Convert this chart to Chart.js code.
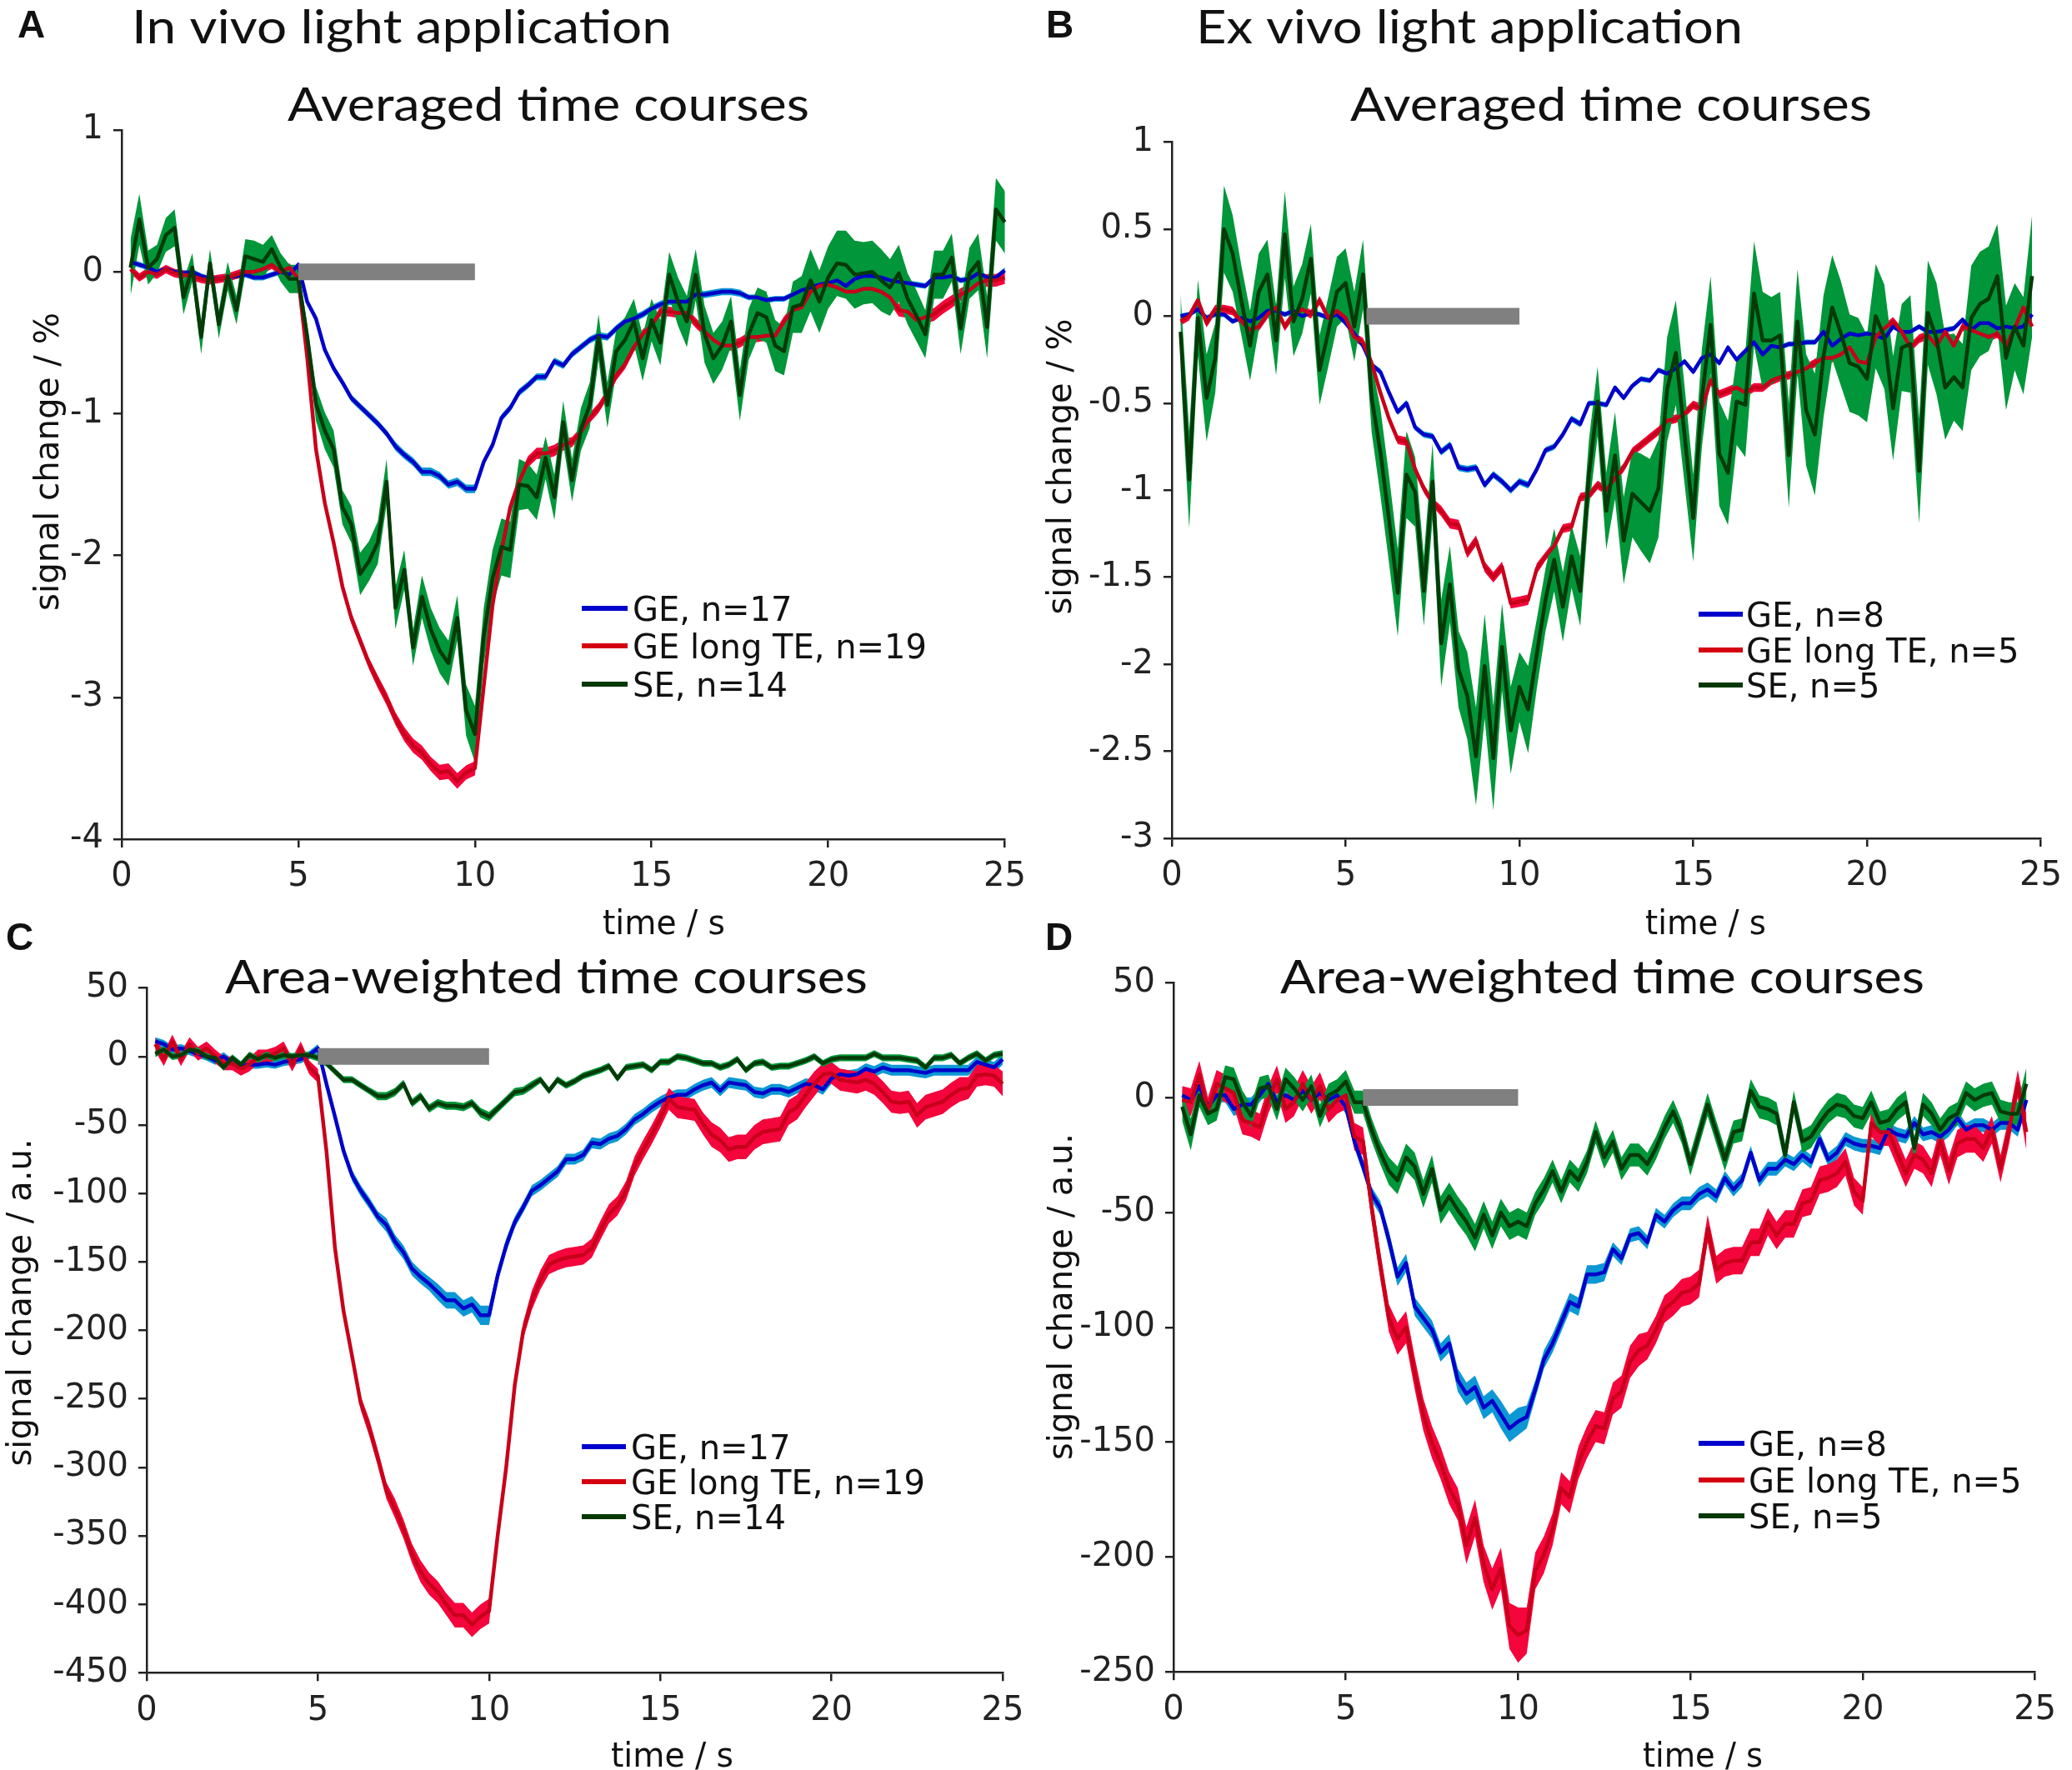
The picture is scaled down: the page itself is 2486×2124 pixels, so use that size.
<!DOCTYPE html>
<html>
<head>
<meta charset="utf-8">
<title>Averaged and area-weighted time courses</title>
<script src="https://cdn.jsdelivr.net/npm/chart.js@4.4.0/dist/chart.umd.min.js"></script>
<style>
  html, body { margin: 0; padding: 0; background: #fff; }
  #page { position: relative; width: 2486px; height: 2124px; overflow: hidden; background: #fff; }
  #page canvas { position: absolute; }
</style>
</head>
<body>
<div id="page">
  <canvas id="chartA"></canvas>
  <canvas id="chartB"></canvas>
  <canvas id="chartC"></canvas>
  <canvas id="chartD"></canvas>
</div>
<script>
// sampling times (s)
const times = [
  0.25,0.5,0.75,1,1.25,1.5,1.75,2,2.25,2.5,
  2.75,3,3.25,3.5,3.75,4,4.25,4.5,4.75,5,
  5.25,5.5,5.75,6,6.25,6.5,6.75,7,7.25,7.5,
  7.75,8,8.25,8.5,8.75,9,9.25,9.5,9.75,10,
  10.25,10.5,10.75,11,11.25,11.5,11.75,12,12.25,12.5,
  12.75,13,13.25,13.5,13.75,14,14.25,14.5,14.75,15,
  15.25,15.5,15.75,16,16.25,16.5,16.75,17,17.25,17.5,
  17.75,18,18.25,18.5,18.75,19,19.25,19.5,19.75,20,
  20.25,20.5,20.75,21,21.25,21.5,21.75,22,22.25,22.5,
  22.75,23,23.25,23.5,23.75,24,24.25,24.5,24.75,25,
  25.25,25.5
];

const legendA = ['GE, n=17', 'GE long TE, n=19', 'SE, n=14'];
const legendB = ['GE, n=8', 'GE long TE, n=5', 'SE, n=5'];
const xTicks = [0, 25, 5];           // min, max, step
const yTicksA = [-4, 1, 1];
const yTicksB = [-3, 1, 0.5];
const yTicksC = [-450, 50, 50];
const yTicksD = [-250, 50, 50];
const stimA = [5, 10];
const stimB = [5.6, 10];
const stimC = [5, 10];
const stimD = [5.5, 10];

// ---- A: in vivo, averaged (%) ----
const aGE = [
  0.07,0.05,0.03,0.0,0.02,0.0,-0.01,0.0,-0.03,-0.05,
  -0.05,-0.04,-0.03,-0.02,-0.04,-0.04,-0.02,0.0,-0.02,0.05,
  -0.21,-0.33,-0.55,-0.68,-0.78,-0.89,-0.95,-1.01,-1.07,-1.14,
  -1.23,-1.29,-1.34,-1.41,-1.41,-1.44,-1.50,-1.48,-1.53,-1.53,
  -1.34,-1.22,-1.03,-0.96,-0.85,-0.80,-0.74,-0.74,-0.63,-0.66,
  -0.58,-0.53,-0.48,-0.45,-0.46,-0.40,-0.35,-0.33,-0.30,-0.26,
  -0.23,-0.21,-0.21,-0.21,-0.16,-0.16,-0.15,-0.14,-0.14,-0.15,
  -0.18,-0.18,-0.20,-0.19,-0.19,-0.16,-0.13,-0.11,-0.09,-0.08,
  -0.06,-0.10,-0.05,-0.03,-0.03,-0.04,-0.06,-0.07,-0.08,-0.09,
  -0.10,-0.04,-0.04,-0.03,-0.06,-0.05,-0.01,-0.04,-0.04,0.01,
  0.02,0.02
];
const aGEsem = [
  .02,.02,.02,.02,.02,.02,.02,.02,.02,.02,
  .02,.02,.02,.02,.02,.02,.02,.02,.02,.02,
  .02,.02,.025,.025,.025,.025,.025,.025,.025,.025,
  .03,.03,.03,.03,.03,.03,.03,.03,.03,.03,
  .025,.025,.025,.025,.025,.025,.025,.025,.025,.025,
  .025,.025,.025,.025,.025,.025,.025,.025,.025,.025,
  .025,.025,.025,.025,.025,.025,.025,.025,.025,.025,
  .02,.02,.02,.02,.02,.02,.02,.02,.02,.02,
  .02,.02,.02,.02,.02,.02,.02,.02,.02,.02,
  .02,.02,.02,.02,.02,.02,.02,.02,.02,.02,
  .02,.02
];
const aLong = [
  0.02,-0.04,0.0,-0.02,0.02,-0.01,-0.02,-0.03,-0.05,-0.06,
  -0.05,-0.04,-0.02,0.0,0.0,0.02,0.05,0.0,0.03,-0.05,
  -0.60,-1.25,-1.63,-1.91,-2.22,-2.44,-2.60,-2.76,-2.89,-3.01,
  -3.15,-3.26,-3.34,-3.39,-3.47,-3.53,-3.52,-3.59,-3.53,-3.50,
  -2.92,-2.35,-1.97,-1.66,-1.48,-1.34,-1.28,-1.28,-1.26,-1.22,
  -1.20,-1.13,-1.03,-0.96,-0.86,-0.73,-0.65,-0.53,-0.44,-0.38,
  -0.28,-0.28,-0.29,-0.29,-0.36,-0.42,-0.48,-0.52,-0.52,-0.50,
  -0.46,-0.46,-0.45,-0.45,-0.35,-0.27,-0.25,-0.14,-0.10,-0.09,
  -0.11,-0.14,-0.14,-0.12,-0.12,-0.14,-0.18,-0.27,-0.28,-0.34,
  -0.32,-0.30,-0.25,-0.21,-0.16,-0.13,-0.08,-0.06,-0.06,-0.04,
  -0.03,-0.03
];
const aLongSem = [
  .03,.03,.03,.03,.03,.03,.03,.03,.03,.03,
  .03,.03,.03,.03,.03,.03,.03,.03,.03,.03,
  .03,.03,.035,.035,.035,.04,.04,.04,.045,.045,
  .045,.05,.05,.05,.05,.055,.055,.055,.05,.05,
  .04,.04,.04,.04,.04,.04,.04,.04,.04,.04,
  .035,.035,.035,.035,.035,.035,.035,.035,.035,.035,
  .035,.035,.035,.035,.035,.035,.035,.035,.035,.035,
  .035,.035,.035,.035,.035,.035,.035,.035,.035,.035,
  .04,.04,.04,.04,.04,.045,.045,.045,.045,.045,
  .045,.045,.045,.045,.045,.045,.045,.045,.045,.045,
  .04,.04
];
const aSE = [
  0.03,0.37,0.03,0.09,0.26,0.31,-0.18,0.03,-0.46,0.06,
  -0.37,-0.03,-0.27,0.11,0.09,0.07,0.16,0.03,-0.05,-0.05,
  -0.45,-0.93,-1.12,-1.25,-1.66,-1.78,-2.13,-2.04,-1.91,-1.48,
  -2.37,-2.10,-2.65,-2.29,-2.52,-2.67,-2.76,-2.44,-3.09,-3.26,
  -2.57,-2.16,-1.94,-1.96,-1.50,-1.51,-1.59,-1.31,-1.59,-1.06,
  -1.47,-1.11,-0.94,-0.46,-0.94,-0.56,-0.48,-0.35,-0.61,-0.34,
  -0.50,-0.02,-0.21,-0.35,-0.02,-0.44,-0.61,-0.52,-0.35,-0.87,
  -0.44,-0.29,-0.32,-0.52,-0.56,-0.25,-0.23,-0.06,-0.21,-0.04,
  0.06,0.05,-0.02,-0.01,0.0,-0.06,-0.11,-0.01,-0.19,-0.31,
  -0.44,-0.02,-0.02,0.10,-0.40,-0.01,0.07,-0.39,0.44,0.35,
  0.06,-0.24
];
const aSEsem = [
  .2,.18,.12,.1,.12,.13,.12,.1,.12,.1,
  .1,.1,.1,.12,.13,.12,.1,.1,.1,.1,
  .08,.12,.13,.13,.12,.13,.15,.14,.15,.16,
  .15,.14,.13,.15,.15,.16,.16,.16,.18,.2,
  .2,.2,.2,.2,.18,.16,.16,.15,.16,.15,
  .15,.15,.16,.16,.16,.15,.16,.16,.16,.15,
  .16,.16,.17,.18,.18,.2,.18,.17,.18,.18,
  .18,.18,.18,.18,.17,.18,.2,.22,.22,.22,
  .23,.24,.24,.22,.22,.22,.2,.2,.18,.18,
  .17,.17,.17,.17,.18,.18,.2,.22,.22,.22,
  .2,.18
];

// ---- B: ex vivo, averaged (%) ----
const bGE = [
  0.0,0.01,0.04,-0.01,0.01,0.01,-0.03,-0.01,-0.03,-0.01,
  0.03,0.03,0.01,0.03,0.0,0.02,0.01,-0.01,0.01,-0.04,
  -0.10,-0.17,-0.28,-0.32,-0.44,-0.55,-0.50,-0.64,-0.68,-0.69,
  -0.78,-0.74,-0.87,-0.88,-0.87,-0.97,-0.91,-0.95,-1.00,-0.95,
  -0.97,-0.88,-0.77,-0.75,-0.68,-0.59,-0.62,-0.50,-0.50,-0.51,
  -0.41,-0.47,-0.40,-0.36,-0.37,-0.31,-0.33,-0.30,-0.26,-0.32,
  -0.24,-0.22,-0.27,-0.18,-0.25,-0.20,-0.15,-0.22,-0.17,-0.18,
  -0.16,-0.16,-0.15,-0.15,-0.09,-0.17,-0.13,-0.10,-0.11,-0.10,
  -0.11,-0.13,-0.06,-0.09,-0.09,-0.06,-0.09,-0.09,-0.08,-0.07,
  -0.02,-0.08,-0.04,-0.04,-0.07,-0.06,-0.07,-0.06,0.01
];
const bGEsem = [
  .015,.015,.015,.015,.015,.015,.015,.015,.015,.015,
  .015,.015,.015,.015,.015,.015,.015,.015,.015,.015,
  .015,.015,.015,.018,.018,.018,.018,.018,.018,.018,
  .02,.02,.02,.02,.02,.02,.02,.02,.02,.02,
  .02,.02,.018,.018,.018,.018,.018,.015,.015,.015,
  .015,.015,.015,.015,.015,.015,.015,.015,.015,.015,
  .015,.015,.015,.015,.015,.015,.015,.015,.015,.015,
  .015,.015,.015,.015,.015,.015,.015,.015,.015,.015,
  .015,.015,.015,.015,.015,.015,.015,.015,.015,.015,
  .015,.015,.015,.015,.015,.015,.015,.015,.015
];
const bLong = [
  -0.03,0.0,0.09,-0.04,0.04,0.04,0.03,-0.03,-0.08,-0.06,
  0.01,0.05,-0.06,0.01,0.04,0.01,0.09,-0.01,0.03,-0.01,
  -0.12,-0.15,-0.27,-0.44,-0.59,-0.71,-0.72,-0.88,-0.99,-1.07,
  -1.12,-1.19,-1.20,-1.36,-1.29,-1.44,-1.50,-1.44,-1.65,-1.64,
  -1.63,-1.45,-1.38,-1.32,-1.22,-1.21,-1.04,-1.03,-0.97,-1.00,
  -0.93,-0.87,-0.78,-0.74,-0.70,-0.66,-0.60,-0.59,-0.56,-0.51,
  -0.53,-0.37,-0.45,-0.43,-0.41,-0.44,-0.41,-0.41,-0.37,-0.35,
  -0.34,-0.32,-0.30,-0.27,-0.24,-0.24,-0.22,-0.18,-0.26,-0.27,
  -0.12,-0.07,-0.03,-0.09,-0.18,-0.13,-0.11,-0.17,-0.09,-0.17,
  -0.06,-0.08,-0.10,-0.12,-0.10,-0.17,-0.07,0.05,-0.06
];
const bLongSem = [
  .025,.025,.025,.025,.025,.025,.025,.025,.025,.025,
  .025,.025,.025,.025,.025,.025,.025,.025,.025,.025,
  .025,.025,.025,.025,.025,.025,.025,.025,.025,.025,
  .03,.03,.03,.03,.03,.03,.03,.03,.03,.03,
  .03,.03,.025,.025,.025,.025,.025,.025,.025,.025,
  .025,.025,.025,.025,.025,.025,.025,.025,.025,.025,
  .025,.025,.025,.025,.025,.025,.025,.025,.025,.025,
  .025,.025,.025,.025,.025,.025,.025,.025,.025,.025,
  .025,.025,.025,.025,.025,.025,.025,.025,.025,.025,
  .025,.025,.025,.025,.025,.025,.025,.025,.025
];
const bSE = [
  -0.09,-0.94,-0.01,-0.47,-0.24,0.50,0.36,0.09,-0.17,0.14,
  0.24,-0.14,0.47,-0.03,0.10,0.33,-0.31,-0.09,0.14,0.19,
  -0.06,0.24,-0.47,-0.78,-1.17,-1.59,-0.91,-1.01,-1.58,-0.95,
  -1.88,-1.54,-2.03,-2.18,-2.53,-2.01,-2.54,-1.90,-2.38,-2.13,
  -2.26,-1.94,-1.63,-1.40,-1.67,-1.38,-1.58,-0.91,-0.49,-1.12,
  -0.80,-1.29,-1.02,-1.07,-1.12,-0.99,-0.42,-0.21,-0.68,-1.16,
  -0.47,-0.05,-0.79,-0.90,-0.49,-0.51,0.13,-0.14,-0.14,-0.11,
  -0.80,-0.03,-0.54,-0.68,-0.23,0.05,-0.10,-0.27,-0.29,-0.36,
  0.0,-0.12,-0.53,-0.18,-0.16,-0.89,0.02,-0.13,-0.41,-0.35,
  -0.41,-0.01,0.07,0.10,0.23,-0.24,-0.06,-0.17,0.23
];
const bSEsem = [
  .22,.28,.22,.25,.2,.25,.22,.2,.2,.22,
  .2,.2,.25,.2,.2,.2,.2,.2,.2,.2,
  .2,.2,.2,.25,.25,.25,.25,.2,.2,.22,
  .25,.22,.22,.25,.28,.3,.3,.25,.25,.2,
  .25,.2,.18,.18,.2,.18,.2,.2,.2,.22,
  .25,.25,.25,.28,.3,.28,.3,.3,.28,.25,
  .28,.28,.3,.3,.25,.3,.3,.28,.25,.25,
  .3,.3,.32,.35,.35,.3,.3,.28,.28,.25,
  .3,.3,.3,.25,.28,.3,.3,.32,.3,.25,
  .25,.3,.3,.3,.3,.3,.25,.28,.35
];

// ---- C: in vivo, area-weighted (a.u.) ----
const cGE = [
  11,9,5,6,4,2,0,-3,0,-5,
  -7,-6,-6,-5,-6,-4,-3,-2,1,6,
  -20,-44,-69,-87,-98,-107,-117,-123,-135,-143,
  -155,-161,-166,-172,-178,-178,-184,-181,-189,-189,
  -160,-138,-121,-110,-98,-94,-89,-84,-75,-75,
  -72,-63,-64,-60,-58,-53,-46,-42,-37,-33,
  -30,-28,-28,-24,-21,-19,-25,-19,-20,-21,
  -26,-27,-24,-24,-26,-23,-20,-21,-24,-16,
  -13,-14,-13,-9,-11,-8,-10,-10,-10,-11,
  -12,-10,-10,-10,-10,-10,-4,-6,-8,-2
];
const cGEsem = [
  3,3,3,3,3,3,3,3,3,3,
  3,3,3,3,3,3,3,3,3,3,
  3,3,4,4,4,4,4,5,5,5,
  5,5,5,6,6,6,6,6,7,7,
  5,5,4,4,4,4,4,4,4,4,
  4,4,4,4,4,4,4,4,4,4,
  4,4,4,4,4,4,4,4,4,4,
  4,4,4,4,4,4,4,4,4,4,
  4,4,4,4,4,4,4,4,4,4,
  4,4,4,4,4,4,4,4,4,4
];
const cLong = [
  9,-2,11,-2,9,2,6,0,-5,-5,
  -9,-6,0,0,2,6,-6,6,-8,-14,
  -69,-140,-186,-219,-253,-271,-293,-317,-330,-345,
  -363,-376,-385,-391,-400,-408,-408,-415,-409,-405,
  -350,-300,-240,-200,-178,-163,-152,-149,-147,-146,
  -145,-140,-127,-115,-109,-98,-80,-68,-57,-45,
  -31,-37,-38,-39,-49,-57,-61,-68,-66,-66,
  -59,-55,-54,-53,-41,-37,-28,-20,-13,-12,
  -17,-18,-19,-17,-20,-26,-33,-34,-33,-43,
  -37,-35,-33,-28,-24,-23,-14,-13,-14,-20
];
const cLongSem = [
  5,5,5,5,5,5,5,5,5,5,
  5,5,5,5,5,5,5,5,5,5,
  4,4,5,5,5,6,6,6,7,7,
  7,8,8,8,8,9,9,9,9,9,
  8,7,6,6,7,7,7,7,7,7,
  7,7,7,7,7,7,7,7,7,7,
  8,8,8,8,8,9,9,9,9,9,
  9,9,9,9,9,9,9,9,8,8,
  8,8,8,8,8,8,8,8,8,9,
  9,9,9,9,9,8,8,8,8,9
];
const cSE = [
  2,5,0,1,5,4,0,-1,-8,-1,
  -6,1,-2,1,-1,1,0,1,1,-1,
  -5,-11,-17,-17,-21,-25,-29,-29,-26,-20,
  -34,-29,-38,-34,-36,-36,-37,-34,-41,-44,
  -38,-32,-26,-25,-21,-17,-25,-17,-21,-18,
  -14,-12,-10,-7,-16,-8,-7,-6,-10,-4,
  -4,0,-1,-3,-5,-5,-8,-6,-2,-10,
  -5,-4,-8,-7,-7,-5,-3,0,-5,-2,
  -1,-1,-1,-1,2,-1,-1,-1,-2,-3,
  -8,-1,-1,1,-5,-1,2,-3,1,2
];
const cSEsem = [
  2.5,2.5,2.5,2.5,2.5,2.5,2.5,2.5,2.5,2.5,
  2.5,2.5,2.5,2.5,2.5,2.5,2.5,2.5,2.5,2.5,
  2.5,2.5,2.5,2.5,2.5,2.5,3,3,3,3,
  3,3,3,3,3,3,3,3,3.5,3.5,
  3,3,3,3,3,2.5,2.5,2.5,2.5,2.5,
  2.5,2.5,2.5,2.5,2.5,2.5,2.5,2.5,2.5,2.5,
  2.5,2.5,2.5,2.5,2.5,2.5,2.5,2.5,2.5,2.5,
  2.5,2.5,2.5,2.5,2.5,2.5,2.5,2.5,2.5,2.5,
  2.5,2.5,2.5,2.5,2.5,2.5,2.5,2.5,2.5,2.5,
  2.5,2.5,2.5,2.5,2.5,2.5,2.5,2.5,2.5,2.5
];

// ---- D: ex vivo, area-weighted (a.u.) ----
const dGE = [
  1,-1,5,-4,1,1,-5,-3,-3,1,
  6,-2,1,-1,3,-1,2,-1,1,-4,
  -19,-30,-42,-48,-62,-78,-72,-91,-96,-101,
  -111,-107,-123,-129,-126,-135,-132,-138,-144,-141,
  -139,-127,-114,-107,-98,-89,-91,-77,-77,-76,
  -66,-70,-60,-59,-63,-51,-54,-49,-46,-46,
  -42,-40,-43,-35,-40,-36,-24,-36,-31,-31,
  -27,-29,-25,-28,-18,-27,-24,-18,-20,-21,
  -21,-22,-14,-16,-17,-11,-16,-15,-17,-14,
  -9,-14,-12,-12,-14,-11,-11,-14,-1
];
const dGEsem = [
  3,3,3,3,3,3,3,3,3,3,
  3,3,3,3,3,3,3,3,3,3,
  3,3,3,3,4,4,4,4,4,4,
  4,4,5,5,5,5,5,6,6,6,
  5,4,4,4,4,4,4,4,4,4,
  3,3,3,3,3,3,3,3,3,3,
  3,3,3,3,3,3,3,3,3,3,
  3,3,3,3,3,3,3,3,3,3,
  3,3,3,3,3,3,3,3,3,3,
  3,3,3,3,3,3,3,3,3
];
const dLong = [
  -1,-2,10,-6,6,4,2,-10,-11,-13,
  -1,8,-5,-2,6,-1,5,-5,-1,1,
  -17,-19,-48,-73,-96,-105,-100,-120,-138,-150,
  -159,-170,-177,-195,-183,-203,-214,-205,-230,-234,
  -232,-206,-199,-188,-170,-174,-159,-150,-143,-144,
  -131,-128,-115,-110,-108,-101,-92,-89,-85,-84,
  -81,-57,-75,-72,-71,-71,-63,-63,-54,-60,
  -55,-55,-46,-45,-36,-35,-33,-28,-41,-45,
  -11,-15,-15,-24,-33,-25,-27,-33,-19,-32,
  -20,-18,-18,-22,-14,-31,-14,6,-15
];
const dLongSem = [
  6,6,6,6,6,6,6,6,6,6,
  6,6,6,6,6,6,6,6,6,6,
  6,6,6,6,6,7,7,7,7,7,
  7,7,7,8,8,8,9,9,10,12,
  10,8,8,7,7,7,7,7,7,7,
  7,7,7,7,6,6,6,6,6,6,
  6,6,6,6,6,6,6,6,6,6,
  6,6,6,6,6,6,6,6,6,6,
  6,6,6,6,6,6,6,6,6,6,
  6,6,6,6,6,6,6,6,8
];
const dSE = [
  -4,-16,1,-7,-5,9,8,-2,-8,4,
  5,-5,8,4,-1,5,-8,1,3,7,
  -2,-2,-14,-24,-32,-36,-26,-30,-42,-31,
  -49,-43,-49,-54,-61,-51,-60,-50,-56,-54,
  -56,-46,-40,-32,-41,-32,-36,-28,-15,-26,
  -19,-31,-25,-25,-29,-22,-13,-6,-15,-29,
  -16,-3,-15,-27,-15,-14,3,-4,-5,-7,
  -25,-2,-19,-17,-11,-6,-3,-4,-8,-9,
  -2,-11,-10,-5,-2,-22,-3,-7,-14,-9,
  -7,2,-1,1,2,-6,-7,-7,6
];
const dSEsem = [
  6,7,5,5,5,5,5,5,5,5,
  5,5,5,5,5,5,5,5,5,5,
  5,5,5,5,6,6,6,6,6,6,
  6,6,6,6,6,6,6,6,6,6,
  6,5,5,5,5,5,5,5,5,5,
  5,5,5,5,5,5,5,5,5,5,
  5,5,5,5,5,5,5,5,5,5,
  5,5,5,5,5,5,5,5,5,5,
  5,5,5,5,5,5,5,5,5,5,
  5,5,5,5,5,5,5,5,7
];

// ---- styles ----
const AXIS = '#222222';
const TEXT = '#111111';
const blueLine = '#0000c8', blueBand = '#0d98d5';
const redLine = '#c8001a', redBand = '#f4053c';
const greenLine = '#063a08', greenBand = '#009639';
const legendColors = ['#0000cc', '#d40010', '#053805'];
const tickFont = { family: 'DejaVu Sans', size: 40 };

function pts(mean, off, sign) {
  return mean.map((v, i) => ({ x: times[i], y: off ? v + sign * off[i] : v }));
}

function band(mean, sem, color) {
  const common = { pointRadius: 0, borderWidth: 0, borderColor: 'rgba(0,0,0,0)', tension: 0, clip: false };
  return [
    Object.assign({ data: pts(mean, sem, 1), fill: '+1', backgroundColor: color }, common),
    Object.assign({ data: pts(mean, sem, -1), fill: false }, common)
  ];
}

function line(mean, color) {
  return { data: pts(mean), borderColor: color, borderWidth: 4.5, pointRadius: 0, fill: false,
           tension: 0, borderJoinStyle: 'round', clip: false };
}

function fitText(ctx, str, x, y, w, font) {
  ctx.font = font;
  const m = ctx.measureText(str).width;
  ctx.save();
  ctx.translate(x, y);
  ctx.scale(w / m, 1);
  ctx.textAlign = 'left';
  ctx.fillText(str, 0, 0);
  ctx.restore();
}

// tick labels like "1", "0.5", "-1.5" (no trailing zeros)
function tickLabel(v) {
  return String(Math.round(v * 100) / 100);
}

// panel titles, axis labels and legend, drawn on top of each chart
const panelText = {
  id: 'panelText',
  afterDraw(chart, args, o) {
    const ctx = chart.ctx;
    ctx.save();
    ctx.fillStyle = TEXT;
    ctx.textBaseline = 'alphabetic';
    ctx.textAlign = 'left';
    ctx.font = 'bold 46px "Liberation Sans"';
    ctx.fillText(o.letter, o.letterPos[0], o.letterPos[1]);
    if (o.header) fitText(ctx, o.header, o.headerBox[0], o.headerBox[1], o.headerBox[2], '56px Lato');
    fitText(ctx, o.title, o.titleBox[0], o.titleBox[1], o.titleBox[2], '56px Lato');
    fitText(ctx, 'time / s', o.xTitleBox[0], o.xTitleBox[1], o.xTitleBox[2], '40px "DejaVu Sans"');

    // rotated y label
    ctx.save();
    ctx.translate(o.yTitlePos[0], o.yTitlePos[1]);
    ctx.rotate(-Math.PI / 2);
    ctx.font = '40px "DejaVu Sans"';
    const m = ctx.measureText(o.yTitle).width;
    ctx.scale(o.yTitlePos[2] / m, 1);
    ctx.textAlign = 'center';
    ctx.fillText(o.yTitle, 0, 0);
    ctx.restore();

    // legend
    const L = o.legend;
    ctx.font = '40px "DejaVu Sans"';
    ctx.lineWidth = 6;
    ctx.lineCap = 'butt';
    o.labels.forEach((lab, i) => {
      ctx.strokeStyle = legendColors[i];
      ctx.beginPath();
      ctx.moveTo(L.x1, L.ys[i]);
      ctx.lineTo(L.x2, L.ys[i]);
      ctx.stroke();
      ctx.fillText(lab, L.tx, L.ys[i] + 14.5);
    });
    ctx.restore();
  }
};

const panels = [
  { id: 'chartA', left: 0, top: 0, w: 1243, h: 1140, area: { l: 146, t: 156, r: 1211, b: 1007 },
    yT: yTicksA, ge: aGE, geSem: aGEsem, lo: aLong, loSem: aLongSem, se: aSE, seSem: aSEsem, stim: stimA,
    text: { letter: 'A', letterPos: [21, 45], header: 'In vivo light application', headerBox: [158, 52, 648],
            title: 'Averaged time courses', titleBox: [345, 145, 626], xTitleBox: [723, 1121, 147],
            yTitle: 'signal change / %', yTitlePos: [70, 554, 358], labels: legendA,
            legend: { x1: 698, x2: 753, tx: 759, ys: [730, 775, 821] } } },
  { id: 'chartB', left: 1243, top: 0, w: 1243, h: 1140, area: { l: 163, t: 170.5, r: 1209, b: 1006 },
    yT: yTicksB, ge: bGE, geSem: bGEsem, lo: bLong, loSem: bLongSem, se: bSE, seSem: bSEsem, stim: stimB,
    text: { letter: 'B', letterPos: [12, 45], header: 'Ex vivo light application', headerBox: [192, 52, 656],
            title: 'Averaged time courses', titleBox: [377, 145, 626], xTitleBox: [731, 1121, 145],
            yTitle: 'signal change / %', yTitlePos: [42, 560, 355], labels: legendB,
            legend: { x1: 795, x2: 848, tx: 852, ys: [737, 780, 822] } } },
  { id: 'chartC', left: 0, top: 1080, w: 1243, h: 1044, area: { l: 176, t: 105.6, r: 1203, b: 927.3 },
    yT: yTicksC, ge: cGE, geSem: cGEsem, lo: cLong, loSem: cLongSem, se: cSE, seSem: cSEsem, stim: stimC,
    text: { letter: 'C', letterPos: [7, 60], header: null, headerBox: null,
            title: 'Area-weighted time courses', titleBox: [270, 112, 771], xTitleBox: [733, 1040, 147],
            yTitle: 'signal change / a.u.', yTitlePos: [37, 483, 393], labels: legendA,
            legend: { x1: 698, x2: 751, tx: 757, ys: [656, 698, 740] } } },
  { id: 'chartD', left: 1243, top: 1080, w: 1243, h: 1044, area: { l: 165, t: 99.3, r: 1198.6, b: 926.2 },
    yT: yTicksD, ge: dGE, geSem: dGEsem, lo: dLong, loSem: dLongSem, se: dSE, seSem: dSEsem, stim: stimD,
    text: { letter: 'D', letterPos: [11, 60], header: null, headerBox: null,
            title: 'Area-weighted time courses', titleBox: [293, 112, 773], xTitleBox: [728, 1040, 144],
            yTitle: 'signal change / a.u.', yTitlePos: [43, 476, 392], labels: legendB,
            legend: { x1: 795, x2: 850, tx: 855, ys: [652, 696, 739] } } }
];

panels.forEach(p => {
  const cv = document.getElementById(p.id);
  cv.width = p.w; cv.height = p.h;
  cv.style.left = p.left + 'px'; cv.style.top = p.top + 'px';
  cv.style.width = p.w + 'px'; cv.style.height = p.h + 'px';

  // index 0 is drawn last (on top): stimulus bar, then lines, then bands
  const datasets = [
    { data: [{ x: p.stim[0], y: 0 }, { x: p.stim[1], y: 0 }], borderColor: '#808080', borderWidth: 20,
      borderCapStyle: 'butt', pointRadius: 0, fill: false, clip: false },
    line(p.se, greenLine),
    line(p.lo, redLine),
    line(p.ge, blueLine),
    ...band(p.se, p.seSem, greenBand),
    ...band(p.lo, p.loSem, redBand),
    ...band(p.ge, p.geSem, blueBand)
  ];

  const axisCommon = {
    type: 'linear',
    grid: { display: true, drawOnChartArea: false, drawTicks: true, tickLength: 10, color: AXIS, lineWidth: 2.5 },
    border: { display: true, color: AXIS, width: 2.5 },
  };

  new Chart(cv, {
    type: 'line',
    data: { datasets },
    options: {
      responsive: false,
      animation: false,
      devicePixelRatio: 1,
      layout: { padding: { left: 0, top: p.area.t, right: p.w - p.area.r, bottom: 0 } },
      plugins: { legend: { display: false }, tooltip: { enabled: false }, panelText: p.text },
      scales: {
        x: Object.assign({}, axisCommon, {
          min: xTicks[0], max: xTicks[1],
          ticks: { stepSize: xTicks[2], font: tickFont, color: AXIS, padding: 12, maxRotation: 0,
                   autoSkip: false, callback: tickLabel },
          afterFit: s => { s.height = p.h - p.area.b; }
        }),
        y: Object.assign({}, axisCommon, {
          min: p.yT[0], max: p.yT[1],
          ticks: { stepSize: p.yT[2], font: tickFont, color: AXIS, padding: 12, callback: tickLabel },
          afterFit: s => { s.width = p.area.l; }
        })
      }
    },
    plugins: [panelText]
  });
});
</script>
</body>
</html>
